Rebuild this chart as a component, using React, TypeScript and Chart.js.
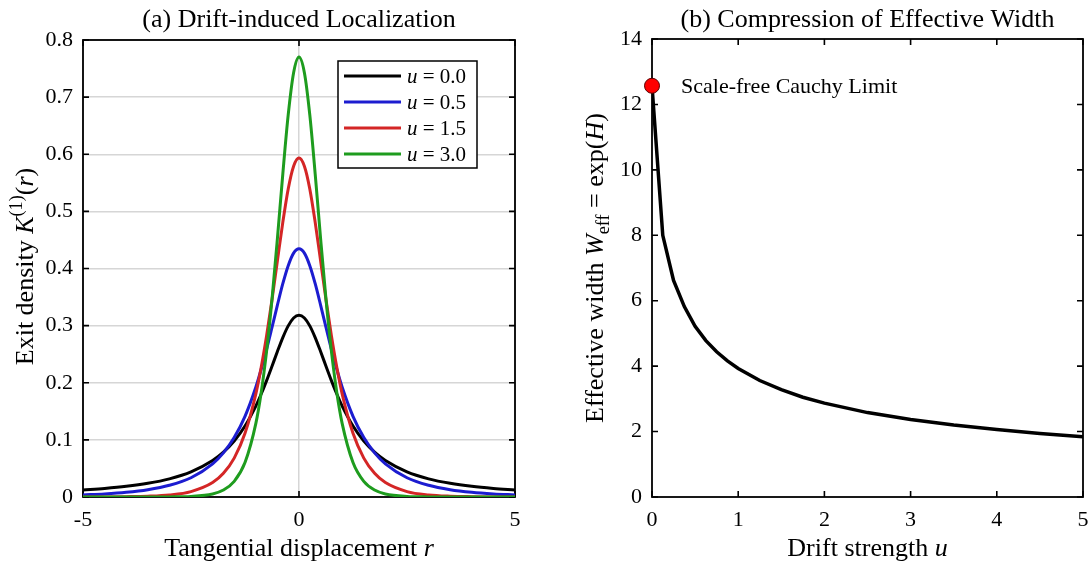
import React, { useEffect, useRef } from "react";
import { Chart, registerables } from "chart.js";

Chart.register(...registerables);

// ---------- Data: panel (a) ----------
const R_VALUES = [
  -5, -4.5, -4, -3.5, -3, -2.5, -2, -1.75, -1.5, -1.25, -1, -0.875, -0.75, -0.625, -0.5, -0.375, -0.25, -0.125, 0,
  0.125, 0.25, 0.375, 0.5, 0.625, 0.75, 0.875, 1, 1.25, 1.5, 1.75, 2, 2.5, 3, 3.5, 4, 4.5, 5,
];
const K_U00 = [
  0.0122, 0.015, 0.0187, 0.024, 0.0318, 0.0439, 0.0637, 0.0784, 0.0979, 0.1242, 0.1592, 0.1803, 0.2037, 0.2289, 0.2546, 0.2791, 0.2996, 0.3134, 0.3183,
  0.3134, 0.2996, 0.2791, 0.2546, 0.2289, 0.2037, 0.1803, 0.1592, 0.1242, 0.0979, 0.0784, 0.0637, 0.0439, 0.0318, 0.024, 0.0187, 0.015, 0.0122,
];
const K_U05 = [
  0.0036, 0.0054, 0.0082, 0.0128, 0.0205, 0.0337, 0.058, 0.0773, 0.104, 0.1412, 0.1921, 0.2236, 0.2586, 0.2968, 0.3359, 0.3734, 0.405, 0.427, 0.4346,
  0.427, 0.405, 0.3734, 0.3359, 0.2968, 0.2586, 0.2236, 0.1921, 0.1412, 0.104, 0.0773, 0.058, 0.0337, 0.0205, 0.0128, 0.0082, 0.0054, 0.0036,
];
const K_U15 = [
  0.0001, 0.0002, 0.0006, 0.0014, 0.0036, 0.0095, 0.0252, 0.0414, 0.0681, 0.1116, 0.1802, 0.2272, 0.2825, 0.3453, 0.4134, 0.4807, 0.5393, 0.5792, 0.5936,
  0.5792, 0.5393, 0.4807, 0.4134, 0.3453, 0.2825, 0.2272, 0.1802, 0.1116, 0.0681, 0.0414, 0.0252, 0.0095, 0.0036, 0.0014, 0.0006, 0.0002, 0.0001,
];
const K_U30 = [
  0, 0, 0, 0, 0.0002, 0.001, 0.0053, 0.0122, 0.0274, 0.0604, 0.1284, 0.183, 0.2553, 0.3461, 0.4524, 0.5654, 0.6688, 0.7428, 0.7703,
  0.7428, 0.6688, 0.5654, 0.4524, 0.3461, 0.2553, 0.183, 0.1284, 0.0604, 0.0274, 0.0122, 0.0053, 0.001, 0.0002, 0, 0, 0, 0,
];
const LEGEND_U = ["0.0", "0.5", "1.5", "3.0"];
const CURVE_COLORS = ["#000000", "#1c1cd0", "#d42626", "#1e9c1e"];

// ---------- Data: panel (b) ----------
const U_VALUES = [0, 0.125, 0.25, 0.375, 0.5, 0.625, 0.75, 0.875, 1, 1.25, 1.5, 1.75, 2, 2.5, 3, 3.5, 4, 4.5, 5];
const W_EFF = [12.57, 8.0, 6.62, 5.82, 5.22, 4.78, 4.44, 4.16, 3.93, 3.56, 3.28, 3.05, 2.87, 2.58, 2.37, 2.2, 2.06, 1.94, 1.84];
const CAUCHY_LIMIT = { x: 0, y: 12.57 };

const FONT = '"Liberation Serif", "Times New Roman", serif';

type Seg = { t: string; it?: boolean; s?: "sup" | "sub" };

function drawRich(
  ctx: CanvasRenderingContext2D,
  segs: Seg[],
  size: number,
  x: number,
  y: number,
  rot = 0,
  align: "center" | "left" = "center"
) {
  ctx.save();
  ctx.translate(x, y);
  ctx.rotate(rot);
  const fonts = segs.map((sg) => `${sg.it ? "italic " : ""}${sg.s ? size * 0.7 : size}px ${FONT}`);
  let total = 0;
  const widths = segs.map((sg, i) => {
    ctx.font = fonts[i];
    const w = ctx.measureText(sg.t).width;
    total += w;
    return w;
  });
  let cx = align === "center" ? -total / 2 : 0;
  ctx.textBaseline = "alphabetic";
  ctx.textAlign = "left";
  ctx.fillStyle = "#000";
  segs.forEach((sg, i) => {
    ctx.font = fonts[i];
    const dy = sg.s === "sup" ? -size * 0.42 : sg.s === "sub" ? size * 0.22 : 0;
    ctx.fillText(sg.t, cx, dy);
    cx += widths[i];
  });
  ctx.restore();
}

function framePlugin(tickLen: number) {
  return {
    id: "frame",
    beforeDatasetsDraw(chart: any) {
      const { ctx, chartArea: ca } = chart;
      ctx.save();
      ctx.strokeStyle = "#000";
      ctx.lineWidth = 1.6;
      ctx.beginPath();
      for (const t of chart.scales.x.ticks) {
        const px = chart.scales.x.getPixelForValue(t.value);
        ctx.moveTo(px, ca.bottom);
        ctx.lineTo(px, ca.bottom - tickLen);
        ctx.moveTo(px, ca.top);
        ctx.lineTo(px, ca.top + tickLen);
      }
      for (const t of chart.scales.y.ticks) {
        const py = chart.scales.y.getPixelForValue(t.value);
        ctx.moveTo(ca.left, py);
        ctx.lineTo(ca.left + tickLen, py);
        ctx.moveTo(ca.right, py);
        ctx.lineTo(ca.right - tickLen, py);
      }
      ctx.stroke();
      ctx.lineWidth = 1.8;
      ctx.strokeRect(ca.left, ca.top, ca.right - ca.left, ca.bottom - ca.top);
      ctx.restore();
    },
  };
}

const tickFont = { family: FONT, size: 22 };
const TITLE_SIZE = 26;

const fitX = (s: any) => {
  s.height = 67;
  s.paddingLeft = 0;
  s.paddingRight = 0;
};

function LeftChart() {
  const ref = useRef<HTMLCanvasElement>(null);
  useEffect(() => {
    const datasetsSrc = [K_U00, K_U05, K_U15, K_U30];
    const chart = new Chart(ref.current!, {
      type: "line",
      data: {
        datasets: datasetsSrc.map((arr, i) => ({
          label: `u = ${LEGEND_U[i]}`,
          data: R_VALUES.map((r, j) => ({ x: r, y: arr[j] })),
          borderColor: CURVE_COLORS[i],
          borderWidth: 3,
          pointRadius: 0,
          cubicInterpolationMode: "monotone" as const,
          fill: false,
          order: 4 - i,
        })),
      },
      options: {
        animation: false,
        responsive: false,
        devicePixelRatio: 1,
        layout: { padding: { left: 0, top: 40, right: 29, bottom: 0 }, autoPadding: false },
        plugins: { legend: { display: false }, tooltip: { enabled: false }, title: { display: false } },
        scales: {
          x: {
            type: "linear",
            min: -5,
            max: 5,
            ticks: { stepSize: 5, font: tickFont, color: "#000", padding: 10, maxRotation: 0 },
            grid: { color: "#d6d6d6", lineWidth: 1.5, drawTicks: false },
            border: { display: false },
            afterFit: fitX,
          },
          y: {
            type: "linear",
            min: 0,
            max: 0.8,
            ticks: { stepSize: 0.1, font: tickFont, color: "#000", padding: 10 },
            grid: { color: "#d6d6d6", lineWidth: 1.5, drawTicks: false },
            border: { display: false },
            afterFit: (s: any) => {
              s.width = 83;
            },
          },
        },
      },
      plugins: [
        framePlugin(6),
        {
          id: "texts",
          afterDraw(c: any) {
            const { ctx, chartArea: ca } = c;
            const cx = (ca.left + ca.right) / 2;
            const cy = (ca.top + ca.bottom) / 2;
            drawRich(ctx, [{ t: "(a) Drift-induced Localization" }], TITLE_SIZE, cx, 27);
            drawRich(ctx, [{ t: "Tangential displacement " }, { t: "r", it: true }], TITLE_SIZE, cx, 556);
            drawRich(
              ctx,
              [{ t: "Exit density " }, { t: "K", it: true }, { t: "(1)", s: "sup" }, { t: "(" }, { t: "r", it: true }, { t: ")" }],
              TITLE_SIZE,
              33,
              cy - 2,
              -Math.PI / 2
            );
            // legend
            const x0 = ca.left + 255;
            const y0 = ca.top + 21;
            ctx.save();
            ctx.fillStyle = "#fff";
            ctx.fillRect(x0, y0, 139, 107);
            ctx.strokeStyle = "#000";
            ctx.lineWidth = 1.5;
            ctx.strokeRect(x0, y0, 139, 107);
            LEGEND_U.forEach((u, i) => {
              const ry = y0 + 15 + i * 26;
              ctx.strokeStyle = CURVE_COLORS[i];
              ctx.lineWidth = 3;
              ctx.beginPath();
              ctx.moveTo(x0 + 6, ry);
              ctx.lineTo(x0 + 63, ry);
              ctx.stroke();
              drawRich(ctx, [{ t: "u", it: true }, { t: " = " + u }], 21, x0 + 69, ry + 7, 0, "left");
            });
            ctx.restore();
          },
        },
      ],
    } as any);
    return () => chart.destroy();
  }, []);
  return <canvas ref={ref} width={544} height={564} style={{ position: "absolute", left: 0, top: 0 }} />;
}

function RightChart() {
  const ref = useRef<HTMLCanvasElement>(null);
  useEffect(() => {
    const chart = new Chart(ref.current!, {
      type: "line",
      data: {
        datasets: [
          {
            label: "Scale-free Cauchy Limit",
            data: [CAUCHY_LIMIT],
            showLine: false,
            pointRadius: 7.5,
            pointBackgroundColor: "#ff0000",
            pointBorderColor: "#5a0000",
            pointBorderWidth: 1,
            clip: false,
            order: 0,
          },
          {
            label: "W_eff",
            data: U_VALUES.map((u, j) => ({ x: u, y: W_EFF[j] })),
            borderColor: "#000",
            borderWidth: 3.5,
            pointRadius: 0,
            tension: 0,
            fill: false,
            order: 1,
          },
        ],
      },
      options: {
        animation: false,
        responsive: false,
        devicePixelRatio: 1,
        layout: { padding: { left: 0, top: 39, right: 5, bottom: 0 }, autoPadding: false },
        plugins: { legend: { display: false }, tooltip: { enabled: false }, title: { display: false } },
        scales: {
          x: {
            type: "linear",
            min: 0,
            max: 5,
            ticks: { stepSize: 1, font: tickFont, color: "#000", padding: 10, maxRotation: 0 },
            grid: { display: false, drawTicks: false },
            border: { display: false },
            afterFit: fitX,
          },
          y: {
            type: "linear",
            min: 0,
            max: 14,
            ticks: { stepSize: 2, font: tickFont, color: "#000", padding: 10 },
            grid: { display: false, drawTicks: false },
            border: { display: false },
            afterFit: (s: any) => {
              s.width = 108;
            },
          },
        },
      },
      plugins: [
        framePlugin(6),
        {
          id: "texts",
          afterDraw(c: any) {
            const { ctx, chartArea: ca } = c;
            const cx = (ca.left + ca.right) / 2;
            const cy = (ca.top + ca.bottom) / 2;
            drawRich(ctx, [{ t: "(b) Compression of Effective Width" }], TITLE_SIZE, cx, 27);
            drawRich(ctx, [{ t: "Drift strength " }, { t: "u", it: true }], TITLE_SIZE, cx, 556);
            drawRich(
              ctx,
              [
                { t: "Effective width " },
                { t: "W", it: true },
                { t: "eff", s: "sub" },
                { t: " = exp(" },
                { t: "H", it: true },
                { t: ")" },
              ],
              TITLE_SIZE,
              59,
              cy,
              -Math.PI / 2
            );
            const px = c.scales.x.getPixelForValue(CAUCHY_LIMIT.x);
            const py = c.scales.y.getPixelForValue(CAUCHY_LIMIT.y);
            drawRich(ctx, [{ t: "Scale-free Cauchy Limit" }], 22, px + 29, py + 7, 0, "left");
          },
        },
      ],
    } as any);
    return () => chart.destroy();
  }, []);
  return <canvas ref={ref} width={544} height={564} style={{ position: "absolute", left: 544, top: 0 }} />;
}

export default function App() {
  useEffect(() => {
    document.body.style.margin = "0";
    document.body.style.background = "#fff";
  }, []);
  return (
    <div style={{ position: "absolute", left: 0, top: 0, width: 1088, height: 564, background: "#fff", overflow: "hidden" }}>
      <LeftChart />
      <RightChart />
    </div>
  );
}
